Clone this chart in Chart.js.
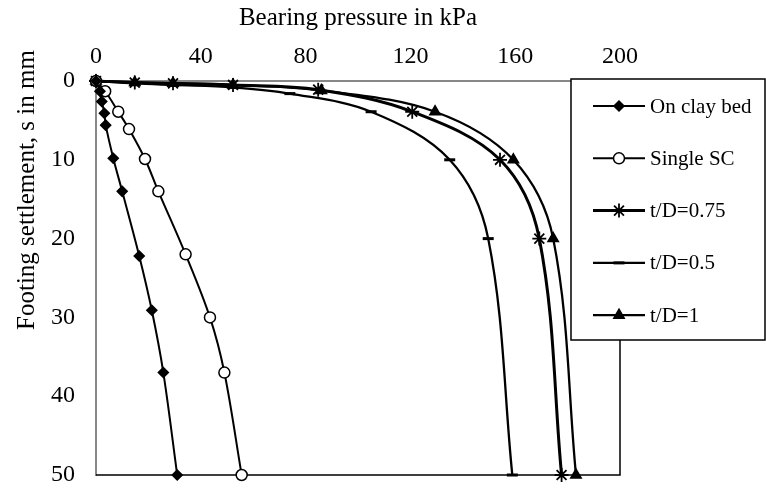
<!DOCTYPE html>
<html>
<head>
<meta charset="utf-8">
<script src="https://cdn.jsdelivr.net/npm/chart.js@4.4.1/dist/chart.umd.min.js"></script>
<style>
  body { margin: 0; background: #fff; }
  #wrap { width: 766px; height: 488px; position: relative; }
</style>
</head>
<body>
<div id="wrap"><canvas id="settleChart"></canvas></div>
<script>
// bearing pressure (kPa) and settlement (mm)
var clayPressure = [0, 1.5, 2.2, 3.2, 3.7, 6.6, 10, 16.5, 21.3, 25.7, 31];
var claySettle   = [0, 1.3, 2.6, 4.1, 5.6, 9.8, 14, 22.2, 29.1, 37, 50];

var singlePressure = [0, 3.5, 8.5, 12.6, 18.7, 23.8, 34.2, 43.5, 49, 55.6];
var singleSettle   = [0, 1.3, 3.9, 6.1, 9.9, 14, 22, 30, 37, 50];

var td075Pressure = [0, 14.8, 29.4, 52.3, 84.8, 120.7, 154.2, 169.2, 177.7];
var td075Settle   = [0, 0.2, 0.3, 0.5, 1.1, 3.9, 10, 20, 50];

var td05Pressure = [0, 14.8, 29.4, 52.3, 74, 105, 135, 149.7, 158.9];
var td05Settle   = [0, 0.3, 0.5, 0.8, 1.6, 3.9, 10, 20, 50];

var td1Pressure = [0, 14.8, 29.4, 52.3, 86, 129.4, 159.3, 174.5, 183.2];
var td1Settle   = [0, 0.2, 0.3, 0.5, 1.2, 3.9, 10, 20, 50];

var seriesNames = ['On clay bed', 'Single SC', 't/D=0.75', 't/D=0.5', 't/D=1'];
var xTicks = [0, 40, 80, 120, 160, 200];
var yTicks = [0, 10, 20, 30, 40, 50];

function pairs(xs, ys) {
    return xs.map(function(x, i) { return { x: x, y: ys[i] }; });
}

var serif = 'Liberation Serif, Times New Roman, serif';

function makeSet(label, xs, ys, style, radius, fill, width, markWidth) {
    return {
        label: label,
        data: pairs(xs, ys),
        showLine: true,
        tension: 0.35,
        borderColor: '#000',
        borderWidth: width,
        pointStyle: style,
        pointRadius: radius,
        pointHoverRadius: radius,
        pointBackgroundColor: fill,
        pointBorderColor: '#000',
        pointBorderWidth: markWidth,
        clip: false
    };
}

var titlesAndLegend = {
    id: 'titlesAndLegend',
    afterDraw: function(chart) {
        var ctx = chart.ctx;
        ctx.save();
        ctx.fillStyle = '#000';
        ctx.font = '25px ' + serif;
        ctx.textAlign = 'center';
        ctx.textBaseline = 'alphabetic';
        ctx.fillText('Bearing pressure in kPa', 358, 25);

        ctx.save();
        ctx.translate(34, 190);
        ctx.rotate(-Math.PI / 2);
        ctx.fillText('Footing settlement, s in mm', 0, 0);
        ctx.restore();

        // legend box sits over the right part of the plot
        ctx.fillStyle = '#fff';
        ctx.fillRect(571, 79, 194, 261);
        ctx.strokeStyle = '#000';
        ctx.lineWidth = 1.5;
        ctx.strokeRect(571, 79, 194, 261);

        ctx.font = '21px ' + serif;
        ctx.textAlign = 'left';
        ctx.textBaseline = 'middle';
        chart.data.datasets.forEach(function(ds, i) {
            var y = 106 + i * 52.3;
            ctx.strokeStyle = '#000';
            ctx.lineWidth = ds.borderWidth;
            ctx.beginPath();
            ctx.moveTo(593, y);
            ctx.lineTo(645, y);
            ctx.stroke();
            ctx.fillStyle = ds.pointBackgroundColor;
            ctx.lineWidth = ds.pointBorderWidth;
            Chart.helpers.drawPoint(ctx, {
                pointStyle: ds.pointStyle,
                radius: ds.pointRadius,
                borderWidth: ds.pointBorderWidth,
                rotation: 0
            }, 619, y);
            ctx.fillStyle = '#000';
            ctx.fillText(ds.label, 650, y + 1);
        });

        ctx.restore();
    }
};

var plotBorder = {
    id: 'plotBorder',
    beforeDatasetsDraw: function(chart) {
        var a = chart.chartArea;
        var ctx = chart.ctx;
        ctx.save();
        ctx.strokeStyle = '#000';
        ctx.lineWidth = 1.5;
        ctx.beginPath();
        ctx.moveTo(a.left, a.bottom);
        ctx.lineTo(a.right, a.bottom);
        ctx.lineTo(a.right, a.top);
        ctx.stroke();
        ctx.restore();
    }
};

document.addEventListener('DOMContentLoaded', function() {
    var ctx = document.getElementById('settleChart').getContext('2d');

    new Chart(ctx, {
        type: 'scatter',
        data: {
            datasets: [
                makeSet(seriesNames[0], clayPressure, claySettle, 'rectRot', 5, '#000', 2, 1.5),
                makeSet(seriesNames[1], singlePressure, singleSettle, 'circle', 5.5, '#fff', 2, 1.5),
                makeSet(seriesNames[2], td075Pressure, td075Settle, 'star', 7, '#000', 3, 1.8),
                makeSet(seriesNames[3], td05Pressure, td05Settle, 'line', 5.5, '#000', 2.3, 3),
                makeSet(seriesNames[4], td1Pressure, td1Settle, 'triangle', 6, '#000', 2.3, 1.5)
            ]
        },
        options: {
            responsive: true,
            maintainAspectRatio: false,
            animation: false,
            layout: { padding: { left: 0, right: 146, top: 0, bottom: 13 } },
            plugins: {
                legend: { display: false },
                tooltip: { enabled: false }
            },
            scales: {
                x: {
                    type: 'linear',
                    position: 'top',
                    min: 0,
                    max: 200,
                    afterFit: function(scale) {
                        scale.height = 81;
                        scale.paddingLeft = 0;
                        scale.paddingRight = 0;
                    },
                    afterBuildTicks: function(scale) {
                        scale.ticks = xTicks.map(function(v) { return { value: v }; });
                    },
                    grid: { display: false, drawTicks: false },
                    border: { display: true, color: '#888', width: 2 },
                    ticks: {
                        padding: 10,
                        color: '#000',
                        font: { family: serif, size: 24 }
                    }
                },
                y: {
                    type: 'linear',
                    reverse: true,
                    min: 0,
                    max: 50,
                    afterFit: function(scale) {
                        scale.width = 96;
                        scale.paddingTop = 0;
                        scale.paddingBottom = 0;
                    },
                    afterBuildTicks: function(scale) {
                        scale.ticks = yTicks.map(function(v) { return { value: v }; });
                    },
                    grid: { display: false, drawTicks: false },
                    border: { display: true, color: '#888', width: 2 },
                    ticks: {
                        padding: 21,
                        color: '#000',
                        font: { family: serif, size: 24 }
                    }
                }
            }
        },
        plugins: [plotBorder, titlesAndLegend]
    });
});
</script>
</body>
</html>
